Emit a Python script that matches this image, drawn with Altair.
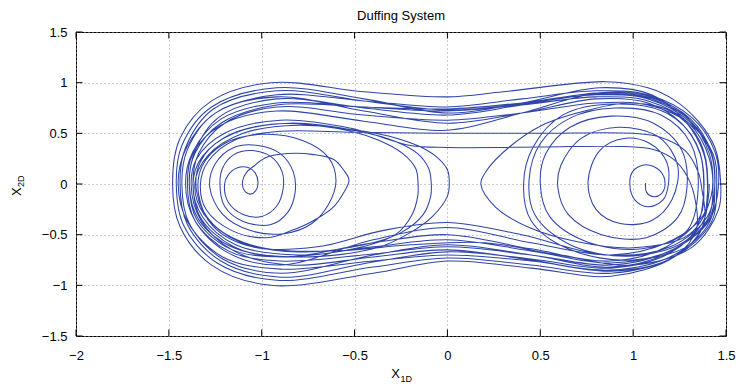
import altair as alt
import pandas as pd

# ---- trajectory, loop by loop (x1D, x2D) ----
right_spiral = [
    (1.067, 0.01), (1.072, -0.08), (1.11, -0.125), (1.15, -0.10), (1.172, 0.0), (1.145, 0.13),
    (1.07, 0.19), (1.0, 0.13), (0.982, 0.0), (1.01, -0.16), (1.08, -0.225), (1.16, -0.16), (1.19, 0.0),
    (1.18, 0.22), (1.09, 0.40), (0.95, 0.45), (0.82, 0.33), (0.757, 0.02), (0.80, -0.25), (0.93, -0.39),
    (1.10, -0.36), (1.21, -0.15),
    (1.24, 0.18), (1.14, 0.46), (0.92, 0.56), (0.72, 0.45), (0.61, 0.18), (0.595, -0.04), (0.65, -0.30),
    (0.83, -0.50), (1.07, -0.53), (1.24, -0.33), (1.29, -0.03),
    (1.26, 0.34), (1.11, 0.60), (0.88, 0.67), (0.66, 0.56), (0.53, 0.30), (0.50, 0.0), (0.55, -0.32),
    (0.75, -0.57), (1.05, -0.64), (1.29, -0.46), (1.35, -0.05),
    (1.31, 0.40), (1.15, 0.68), (0.90, 0.75), (0.66, 0.65), (0.50, 0.40), (0.44, 0.05), (0.47, -0.30),
    (0.66, -0.60), (1.0, -0.71), (1.31, -0.52), (1.38, -0.08),
    (1.34, 0.40), (1.18, 0.70), (0.90, 0.79), (0.62, 0.68), (0.46, 0.36), (0.41, 0.0), (0.45, -0.36),
    (0.65, -0.64), (1.0, -0.75), (1.33, -0.56), (1.40, -0.10),
    (1.36, 0.42), (1.20, 0.72), (0.98, 0.80), (0.76, 0.73), (0.51, 0.58), (0.33, 0.36), (0.21, 0.13),
    (0.18, 0.0), (0.26, -0.23), (0.44, -0.43), (0.70, -0.57), (1.0, -0.63), (1.30, -0.50), (1.42, -0.12),
]

orbit_1 = [
    (1.41, 0.25), (1.30, 0.60), (1.08, 0.82), (0.80, 0.86), (0.40, 0.78), (0.0, 0.72), (-0.45, 0.76),
    (-0.92, 0.80), (-1.22, 0.64), (-1.37, 0.32), (-1.41, 0.0), (-1.36, -0.36), (-1.18, -0.66),
    (-0.90, -0.76), (-0.40, -0.69), (0.0, -0.62), (0.45, -0.70), (0.88, -0.80), (1.20, -0.66),
    (1.41, -0.36), (1.46, 0.0),
]

orbit_2 = [
    (1.44, 0.32), (1.32, 0.65), (1.08, 0.88), (0.80, 0.92), (0.40, 0.84), (0.0, 0.76), (-0.45, 0.82),
    (-0.92, 0.88), (-1.25, 0.70), (-1.41, 0.34), (-1.45, 0.0), (-1.40, -0.37), (-1.21, -0.72),
    (-0.90, -0.84), (-0.40, -0.76), (0.0, -0.70), (0.45, -0.76), (0.88, -0.85), (1.22, -0.70),
    (1.41, -0.38), (1.44, 0.0),
]

orbit_3_left_loops = [
    (1.42, 0.30), (1.31, 0.62), (1.10, 0.84), (0.80, 0.89), (0.40, 0.80), (0.0, 0.74), (-0.45, 0.76),
    (-0.92, 0.78), (-1.22, 0.60), (-1.36, 0.30), (-1.39, 0.0), (-1.34, -0.35), (-1.15, -0.63),
    (-0.80, -0.72), (-0.38, -0.63), (-0.20, -0.48), (-0.08, -0.32), (0.0, -0.12), (0.01, 0.0),
    (0.0, 0.14), (-0.06, 0.27), (-0.15, 0.37), (-0.27, 0.45), (-0.45, 0.52), (-0.80, 0.58),
    (-1.10, 0.50), (-1.29, 0.28), (-1.36, 0.0), (-1.31, -0.30), (-1.12, -0.57), (-0.80, -0.67),
    (-0.45, -0.60), (-0.25, -0.48), (-0.13, -0.30), (-0.09, -0.12), (-0.087, 0.0),
    (-0.10, 0.15), (-0.16, 0.30), (-0.28, 0.42), (-0.48, 0.52), (-0.85, 0.60), (-1.15, 0.50),
    (-1.32, 0.27), (-1.37, 0.0), (-1.32, -0.32), (-1.14, -0.60), (-0.80, -0.70), (-0.48, -0.63),
    (-0.28, -0.50), (-0.19, -0.30), (-0.16, -0.12), (-0.158, 0.0),
    (-0.17, 0.15), (-0.24, 0.30), (-0.38, 0.44), (-0.60, 0.55), (-0.95, 0.59), (-1.20, 0.46),
    (-1.33, 0.22), (-1.35, -0.08), (-1.26, -0.40), (-1.02, -0.62), (-0.60, -0.66), (-0.20, -0.60),
    (0.20, -0.58), (0.60, -0.70), (1.0, -0.80), (1.32, -0.62), (1.46, -0.25), (1.47, 0.05),
]

orbit_4_outer = [
    (1.44, 0.36), (1.35, 0.62), (1.22, 0.83), (1.08, 0.95), (0.85, 1.01), (0.30, 0.91), (0.0, 0.86),
    (-0.45, 0.91), (-0.95, 1.0), (-1.27, 0.82), (-1.44, 0.45), (-1.48, 0.0), (-1.44, -0.42),
    (-1.27, -0.80), (-0.95, -1.0), (-0.40, -0.88), (0.0, -0.76), (0.45, -0.83), (0.88, -0.91),
    (1.22, -0.72), (1.34, -0.45), (1.33, -0.12),
]

orbit_5_flat = [
    (1.29, 0.08), (1.22, 0.24), (1.11, 0.34), (0.95, 0.37), (0.50, 0.365), (0.0, 0.36), (-0.20, 0.38),
    (-0.35, 0.46), (-0.52, 0.55), (-0.90, 0.63), (-1.20, 0.50), (-1.35, 0.25), (-1.38, 0.0),
    (-1.33, -0.35), (-1.15, -0.66), (-0.85, -0.80), (-0.40, -0.72), (0.0, -0.65), (0.45, -0.75),
    (0.88, -0.86), (1.22, -0.72), (1.38, -0.40), (1.37, -0.05),
]

orbit_6_heart = [
    (1.35, 0.12), (1.28, 0.33), (1.15, 0.46), (1.0, 0.50), (0.50, 0.50), (0.0, 0.50), (-0.50, 0.51),
    (-0.90, 0.52), (-1.15, 0.43), (-1.29, 0.22), (-1.33, 0.0), (-1.30, -0.25), (-1.16, -0.46),
    (-0.97, -0.53), (-0.84, -0.46), (-0.72, -0.36), (-0.61, -0.22), (-0.56, -0.09), (-0.53, 0.04),
    (-0.56, 0.14), (-0.61, 0.24), (-0.72, 0.29), (-0.86, 0.30), (-0.98, 0.26), (-1.04, 0.18),
    (-1.08, 0.12), (-1.103, 0.03), (-1.095, -0.06), (-1.06, -0.10), (-1.03, -0.06), (-1.02, 0.02),
    (-1.035, 0.11), (-1.07, 0.16), (-1.13, 0.16), (-1.18, 0.09), (-1.20, 0.0), (-1.18, -0.18),
    (-1.10, -0.30), (-1.0, -0.32), (-0.92, -0.22), (-0.885, -0.05), (-0.89, 0.12), (-0.95, 0.27),
    (-1.05, 0.33), (-1.15, 0.29), (-1.21, 0.16), (-1.225, 0.0), (-1.20, -0.22), (-1.10, -0.37),
    (-0.95, -0.40), (-0.86, -0.28), (-0.82, -0.08), (-0.83, 0.12), (-0.90, 0.30), (-1.02, 0.38),
    (-1.15, 0.36), (-1.25, 0.20), (-1.28, -0.03), (-1.21, -0.30), (-1.06, -0.46), (-0.88, -0.49),
    (-0.73, -0.39), (-0.64, -0.20), (-0.60, 0.03), (-0.64, 0.26), (-0.78, 0.43), (-1.0, 0.49),
    (-1.20, 0.40), (-1.32, 0.18), (-1.34, -0.10), (-1.26, -0.42), (-1.05, -0.62), (-0.70, -0.62),
    (-0.35, -0.46), (0.0, -0.38), (0.40, -0.50), (0.85, -0.70), (1.20, -0.62), (1.40, -0.32), (1.44, 0.0),
]

orbit_7 = [
    (1.42, 0.32), (1.31, 0.64), (1.10, 0.85), (0.82, 0.90), (0.40, 0.78), (0.0, 0.68), (-0.45, 0.75),
    (-0.92, 0.84), (-1.23, 0.66), (-1.36, 0.32), (-1.39, 0.0), (-1.35, -0.35), (-1.17, -0.64),
    (-0.88, -0.72), (-0.40, -0.62), (0.0, -0.55), (0.45, -0.66), (0.88, -0.78), (1.22, -0.64),
    (1.41, -0.34), (1.44, 0.0),
]

orbit_8 = [
    (1.42, 0.30), (1.30, 0.62), (1.08, 0.84), (0.80, 0.88), (0.40, 0.79), (0.0, 0.73), (-0.45, 0.82),
    (-0.92, 0.92), (-1.26, 0.74), (-1.41, 0.36), (-1.44, 0.0), (-1.40, -0.40), (-1.22, -0.76),
    (-0.90, -0.92), (-0.40, -0.77), (0.0, -0.67), (0.45, -0.74), (0.88, -0.83), (1.20, -0.68),
    (1.38, -0.36), (1.40, 0.0),
]

orbit_9 = [
    (1.38, 0.30), (1.28, 0.62), (1.10, 0.88), (0.82, 0.95), (0.40, 0.80), (0.0, 0.70), (-0.45, 0.84),
    (-0.92, 0.95), (-1.27, 0.76), (-1.43, 0.38), (-1.46, 0.0), (-1.42, -0.41), (-1.24, -0.78),
    (-0.92, -0.95), (-0.40, -0.82), (0.0, -0.73), (0.45, -0.80), (0.88, -0.88), (1.22, -0.72),
    (1.42, -0.38), (1.45, 0.0),
]

orbit_10 = [
    (1.43, 0.30), (1.30, 0.60), (1.08, 0.78), (0.80, 0.80), (0.40, 0.70), (0.0, 0.63), (-0.45, 0.68),
    (-0.92, 0.76), (-1.20, 0.60), (-1.34, 0.30), (-1.37, 0.0), (-1.33, -0.33), (-1.15, -0.62),
    (-0.88, -0.72), (-0.40, -0.58), (0.0, -0.50), (0.45, -0.64), (0.88, -0.76), (1.18, -0.62),
    (1.36, -0.32), (1.38, 0.0),
]

orbit_11 = [
    (1.36, 0.30), (1.26, 0.60), (1.08, 0.80), (0.80, 0.84), (0.40, 0.70), (0.0, 0.60), (-0.45, 0.72),
    (-0.92, 0.86), (-1.25, 0.70), (-1.40, 0.34), (-1.43, 0.0), (-1.39, -0.39), (-1.21, -0.74),
    (-0.90, -0.88), (-0.40, -0.70), (0.0, -0.60), (0.45, -0.70), (0.88, -0.82), (1.20, -0.67),
    (1.40, -0.35), (1.43, 0.0),
]

orbit_12 = [
    (1.41, 0.30), (1.30, 0.64), (1.10, 0.86), (0.82, 0.90), (0.40, 0.70), (0.0, 0.53), (-0.45, 0.62),
    (-0.92, 0.72), (-1.22, 0.58), (-1.37, 0.30), (-1.40, 0.0), (-1.36, -0.36), (-1.18, -0.68),
    (-0.90, -0.80), (-0.40, -0.55), (0.0, -0.43), (0.45, -0.58), (0.88, -0.70), (1.18, -0.58),
    (1.38, -0.30), (1.41, 0.0),
]

segments = [right_spiral, orbit_1, orbit_2, orbit_3_left_loops, orbit_4_outer, orbit_5_flat,
            orbit_6_heart, orbit_7, orbit_8, orbit_9, orbit_10, orbit_11, orbit_12]

x_ticks = [-2, -1.5, -1, -0.5, 0, 0.5, 1, 1.5]
y_ticks = [-1.5, -1, -0.5, 0, 0.5, 1, 1.5]
title_text = "Duffing System"

pts = [p for seg in segments for p in seg]
df = pd.DataFrame({"i": list(range(len(pts))),
                   "x": [p[0] for p in pts],
                   "y": [p[1] for p in pts]})

W, H = 650, 304
FONT = "Liberation Sans"
LINE_COLOR = "#2f45a8"

xscale = alt.Scale(domain=[-2, 1.5], nice=False, zero=False)
yscale = alt.Scale(domain=[-1.5, 1.5], nice=False, zero=False)

common_axis = dict(format="~g", ticks=False, domain=False, grid=True, gridColor="#9a9a9a",
                   gridDash=[1, 3], gridWidth=1, labelFontSize=13, labelColor="black",
                   labelFont=FONT, title=None, labelFlush=False, labelOverlap=False)
xaxis = alt.Axis(values=x_ticks, labelPadding=13, **common_axis)
yaxis = alt.Axis(values=y_ticks, labelPadding=9, **common_axis)

line = alt.Chart(df).mark_line(
    color=LINE_COLOR, strokeWidth=1.05, interpolate="catmull-rom", clip=True
).encode(
    x=alt.X("x:Q", scale=xscale, axis=xaxis),
    y=alt.Y("y:Q", scale=yscale, axis=yaxis),
    order="i:Q",
)

xt_df = pd.DataFrame({"x": x_ticks})
yt_df = pd.DataFrame({"y": y_ticks})
TL = 6.5

bottom_ticks = alt.Chart(xt_df).mark_rule(color="black", strokeWidth=1).encode(
    x=alt.X("x:Q", scale=xscale, axis=xaxis), y=alt.value(H), y2=alt.value(H - TL))
top_ticks = alt.Chart(xt_df).mark_rule(color="black", strokeWidth=1).encode(
    x=alt.X("x:Q", scale=xscale, axis=xaxis), y=alt.value(0), y2=alt.value(TL))
left_ticks = alt.Chart(yt_df).mark_rule(color="black", strokeWidth=1).encode(
    y=alt.Y("y:Q", scale=yscale, axis=yaxis), x=alt.value(0), x2=alt.value(TL))
right_ticks = alt.Chart(yt_df).mark_rule(color="black", strokeWidth=1).encode(
    y=alt.Y("y:Q", scale=yscale, axis=yaxis), x=alt.value(W), x2=alt.value(W - TL))

one = pd.DataFrame({"k": [0]})
title_mark = alt.Chart(one).mark_text(text=title_text, fontSize=13, font=FONT, color="black",
                                      align="center", baseline="alphabetic").encode(
    x=alt.value(W / 2), y=alt.value(-12))
xlab_main = alt.Chart(one).mark_text(text="X", fontSize=13, font=FONT, color="black",
                                     align="right", baseline="alphabetic").encode(
    x=alt.value(W / 2 - 1), y=alt.value(346))
xlab_sub = alt.Chart(one).mark_text(text="1D", fontSize=9, font=FONT, color="black",
                                    align="left", baseline="alphabetic").encode(
    x=alt.value(W / 2 - 0.5), y=alt.value(349.5))
ylab_main = alt.Chart(one).mark_text(text="X", fontSize=13, font=FONT, color="black", angle=270,
                                     align="left", baseline="alphabetic").encode(
    x=alt.value(-55), y=alt.value(164))
ylab_sub = alt.Chart(one).mark_text(text="2D", fontSize=9, font=FONT, color="black", angle=270,
                                    align="left", baseline="alphabetic").encode(
    x=alt.value(-52), y=alt.value(155))

chart = alt.layer(
    line, bottom_ticks, top_ticks, left_ticks, right_ticks,
    title_mark, xlab_main, xlab_sub, ylab_main, ylab_sub,
).properties(
    width=W, height=H,
    autosize=alt.AutoSizeParams(type="none"),
    padding={"left": 68, "top": 24, "right": 10, "bottom": 47},
).configure_view(stroke="black", strokeWidth=1)

chart.save("out.html", embed_options={"renderer": "svg", "actions": False})
